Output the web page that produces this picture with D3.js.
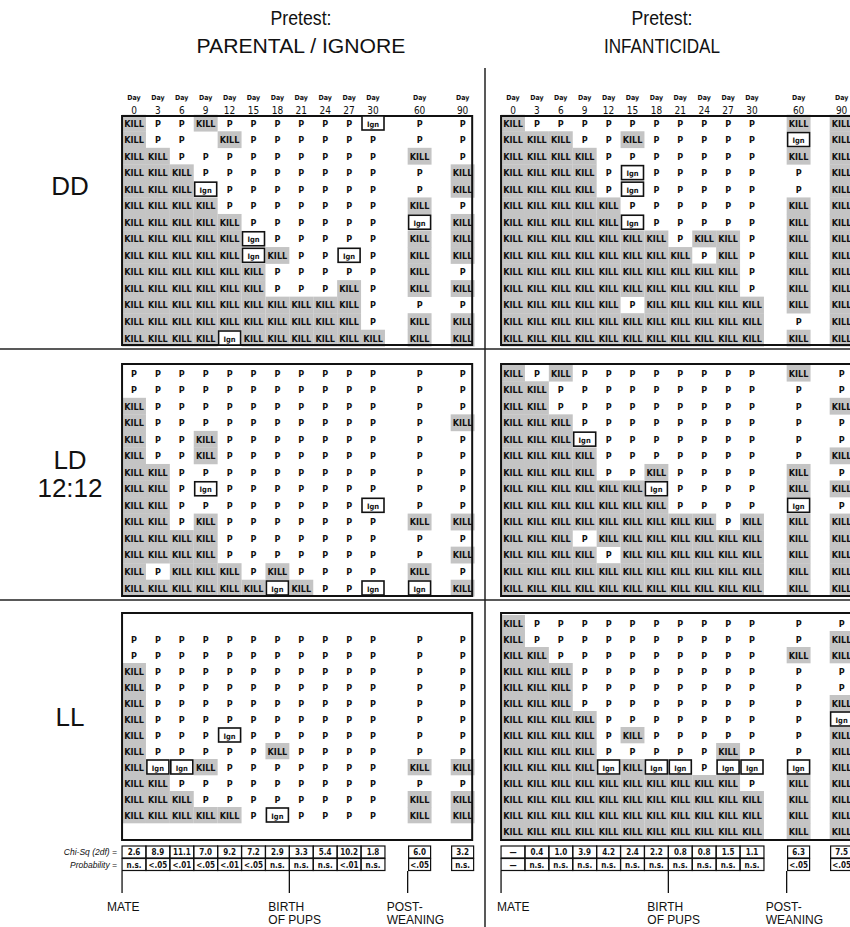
<!DOCTYPE html>
<html>
<head>
<meta charset="utf-8">
<script src="https://cdn.jsdelivr.net/npm/d3@7"></script>
<style>
body { margin: 0; background: #fff; }
text { font-family: "Liberation Sans", Arial, sans-serif; fill: #111; }
.cell, .hdr, .stat { font-family: "Liberation Sans Narrow", "DejaVu Sans Condensed", sans-serif; font-weight: bold; }
</style>
</head>
<body>
<script>
// columns of each grid
var days = [0, 3, 6, 9, 12, 15, 18, 21, 24, 27, 30, 60, 90];
var daySlot = [0, 1, 2, 3, 4, 5, 6, 7, 8, 9, 10, 11.95, 13.75];
var groups = ["PARENTAL / IGNORE", "INFANTICIDAL"];
var conditions = [["DD"], ["LD", "12:12"], ["LL"]];

// one string per animal, one letter per day: K = KILL, P = parental, I = Ign(ore), - = nothing
var ddParental = [
  "KPPKPPPPPPIPP",
  "KPP-KPPPPPPPP",
  "KKPPPPPPPPPKP",
  "KKKPPPPPPPPPK",
  "KKKIPPPPPPPPK",
  "KKKKPPPPPPPKP",
  "KKKKKPPPPPPIK",
  "KKKKKIPPPPPKK",
  "KKKKKIKPPIPKK",
  "KKKKKKPPPPPKP",
  "KKKKKKPPPKPKK",
  "KKKKKKKKKKPPP",
  "KKKKKKKKKKPKK",
  "KKKKIKKKKKKKK"
];
var ddInfant = [
  "KPPPPPPPPPPKK",
  "KKKPPKPPPPPIK",
  "KKKKPPPPPPPKK",
  "KKKKPIPPPPPPK",
  "KKKKPIPPPPPPK",
  "KKKKKPPPPPPKK",
  "KKKKKIPPPPPKK",
  "KKKKKKKPKKPKK",
  "KKKKKKKKPKPKK",
  "KKKKKKKKKKPKK",
  "KKKKKKKKKKPKK",
  "KKKKKPKKKKKKK",
  "KKKKKKKKKKKPK",
  "KKKKKKKKKKKKK"
];
var ldParental = [
  "PPPPPPPPPPPPP",
  "PPPPPPPPPPPPP",
  "KPPPPPPPPPPPP",
  "KPPPPPPPPPPPK",
  "KPPKPPPPPPPPP",
  "KPPKPPPPPPPPP",
  "KKPPPPPPPPPPP",
  "KKPIPPPPPPPPP",
  "KKPPPPPPPPIPP",
  "KKPKPPPPPPPKK",
  "KKKKPPPPPPPPP",
  "KKKKPPPPPPPPK",
  "KPKKKPKPPPPKP",
  "KKKKKKIKPPIIK"
];
var ldInfant = [
  "KPKPPPPPPPPKP",
  "KKPPPPPPPPPPP",
  "KKPPPPPPPPPPK",
  "KKKPPPPPPPPPP",
  "KKKIPPPPPPPPP",
  "KKKKPPPPPPPPK",
  "KKKKPPKPPPPKP",
  "KKKKKKIPPPPKK",
  "KKKKKKKPPPPIP",
  "KKKKKKKKKPKKK",
  "KKKPKKKKKKKKK",
  "KKKKPKKKKKKKK",
  "KKKKKKKKKKKKK",
  "KKKKKKKKKKKKK"
];
var llParental = [
  "-------------",
  "PPPPPPPPPPPPP",
  "PPPPPPPPPPPPP",
  "KPPPPPPPPPPPP",
  "KPPPPPPPPPPPP",
  "KPPPPPPPPPPPP",
  "KPPPPPPPPPPPP",
  "KPPPIPPPPPPPP",
  "KPPPPPKPPPPPP",
  "KIIKPPPPPPPKK",
  "KKPPPPPPPPPPP",
  "KKKPPPPPPPPKK",
  "KKKKKPIPPPPKK",
  "-------------"
];
var llInfant = [
  "KPPPPPPPPPPPP",
  "KPPPPPPPPPPPK",
  "KKPPPPPPPPPKK",
  "KKKPPPPPPPPPP",
  "KKKPPPPPPPPPP",
  "KKKPPPPPPPPPK",
  "KKKKPPPPPPPPI",
  "KKKKPKPPPPPPK",
  "KKKKPPPPPKPPK",
  "KKKKIKIIPIIIK",
  "KKKKKKKKKKPKK",
  "KKKKKKKKKKKKK",
  "KKKKKKKKKKKKK",
  "KKKKKKKKKKKKK"
];
var grids = [[ddParental, ddInfant], [ldParental, ldInfant], [llParental, llInfant]];

// statistics under the LL panels
var chiParental = ["2.6", "8.9", "11.1", "7.0", "9.2", "7.2", "2.9", "3.3", "5.4", "10.2", "1.8", "6.0", "3.2"];
var probParental = ["n.s.", "<.05", "<.01", "<.05", "<.01", "<.05", "n.s.", "n.s.", "n.s.", "<.01", "n.s.", "<.05", "n.s."];
var chiInfant = ["\u2014", "0.4", "1.0", "3.9", "4.2", "2.4", "2.2", "0.8", "0.8", "1.5", "1.1", "6.3", "7.5"];
var probInfant = ["\u2014", "n.s.", "n.s.", "n.s.", "n.s.", "n.s.", "n.s.", "n.s.", "n.s.", "n.s.", "n.s.", "<.05", "<.05"];
var chiRows = [chiParental, chiInfant];
var probRows = [probParental, probInfant];
var events = [["MATE"], ["BIRTH", "OF PUPS"], ["POST-", "WEANING"]];
var eventSlot = [-0.5, 6.5, 11.45];

var width = 850, height = 927;
var svg = d3.select("body").append("svg")
  .attr("width", width).attr("height", height);

var colX0 = [134, 513], step = 23.9;
var rowFirst = [123, 373, 623], rowLast = [338, 588, 831];
var boxTop = [116, 364, 613], boxBottom = [345, 596, 840];

// titles, squeezed a little to look like the condensed original
var titleW = [[61, 209], [61, 116]];
groups.forEach(function(g, gi) {
  var cx = gi == 0 ? 301 : 662;
  svg.append("text").attr("x", cx).attr("y", 25).attr("text-anchor", "middle")
    .attr("textLength", titleW[gi][0]).attr("lengthAdjust", "spacingAndGlyphs")
    .style("font-size", "20px").text("Pretest:");
  svg.append("text").attr("x", cx).attr("y", 53).attr("text-anchor", "middle")
    .attr("textLength", titleW[gi][1]).attr("lengthAdjust", "spacingAndGlyphs")
    .style("font-size", "20px").text(g);
});

// dividers
svg.append("line").attr("x1", 485).attr("x2", 485).attr("y1", 68).attr("y2", height)
  .attr("stroke", "#222").attr("stroke-width", 1.5);
[349, 600].forEach(function(yy) {
  svg.append("line").attr("x1", 0).attr("x2", width).attr("y1", yy).attr("y2", yy)
    .attr("stroke", "#222").attr("stroke-width", 1.5);
});

// condition labels
var labelY = [[195], [469, 497], [726]];
conditions.forEach(function(c, ci) {
  c.forEach(function(t, k) {
    svg.append("text").attr("x", 70).attr("y", labelY[ci][k]).attr("text-anchor", "middle")
      .style("font-size", "26px").text(t);
  });
});

var cellText = { K: "KILL", P: "P", I: "Ign", "-": "" };

groups.forEach(function(g, gi) {
  var x = d3.scaleLinear().domain([0, 10]).range([colX0[gi], colX0[gi] + 10 * step]);

  // day header
  var hdr = svg.append("g");
  days.forEach(function(d, i) {
    hdr.append("text").attr("class", "hdr").attr("x", x(daySlot[i])).attr("y", 100)
      .attr("text-anchor", "middle").style("font-size", "7px").text("Day");
    hdr.append("text").attr("class", "hdr").attr("x", x(daySlot[i])).attr("y", 114)
      .attr("text-anchor", "middle").style("font-size", "10px").style("font-weight", "normal").text(d);
  });

  conditions.forEach(function(c, ci) {
    var rows = grids[ci][gi];
    var y = d3.scaleLinear().domain([0, 13]).range([rowFirst[ci], rowLast[ci]]);
    var rowStep = y(1) - y(0);
    var cells = [];
    rows.forEach(function(r, ri) {
      r.split("").forEach(function(v, di) {
        cells.push({ row: ri, day: di, v: v });
      });
    });
    var p = svg.append("g");

    p.selectAll(".shade").data(cells.filter(function(d) { return d.v == "K"; }))
      .enter().append("rect").attr("class", "shade")
      .attr("x", function(d) { return x(daySlot[d.day]) - step / 2; })
      .attr("y", function(d) { return y(d.row) - rowStep / 2; })
      .attr("width", step).attr("height", rowStep + 0.3)
      .attr("fill", "#c4c4c4");

    p.append("rect")
      .attr("x", x(-0.5)).attr("y", boxTop[ci])
      .attr("width", x(14.15) - x(-0.5)).attr("height", boxBottom[ci] - boxTop[ci])
      .attr("fill", "none").attr("stroke", "#111").attr("stroke-width", 2);

    p.selectAll(".ign").data(cells.filter(function(d) { return d.v == "I"; }))
      .enter().append("rect").attr("class", "ign")
      .attr("x", function(d) { return x(daySlot[d.day]) - 11; })
      .attr("y", function(d) { return y(d.row) - 7; })
      .attr("width", 22).attr("height", 14)
      .attr("fill", "#fff").attr("stroke", "#111").attr("stroke-width", 1.6);

    p.selectAll(".cell").data(cells.filter(function(d) { return d.v != "-"; }))
      .enter().append("text").attr("class", "cell")
      .attr("x", function(d) { return x(daySlot[d.day]); })
      .attr("y", function(d) { return y(d.row) + 3.5; })
      .attr("text-anchor", "middle")
      .style("font-size", function(d) { return d.v == "I" ? "7.5px" : "9px"; })
      .text(function(d) { return cellText[d.v]; });
  });

  // chi-square and probability rows
  var st = svg.append("g");
  [chiRows[gi], probRows[gi]].forEach(function(vals, k) {
    var yTop = 846 + k * 12.5;
    vals.forEach(function(v, i) {
      var w = i > 10 ? 22 : step;
      st.append("rect").attr("x", x(daySlot[i]) - w / 2).attr("y", yTop)
        .attr("width", w).attr("height", 12)
        .attr("fill", "none").attr("stroke", "#111").attr("stroke-width", 1.2);
      st.append("text").attr("class", "stat").attr("x", x(daySlot[i])).attr("y", yTop + 9)
        .attr("text-anchor", "middle").style("font-size", "8px").text(v);
    });
  });
  if (gi == 0) {
    st.append("text").attr("x", 117).attr("y", 855).attr("text-anchor", "end")
      .style("font-size", "8.5px").style("font-style", "italic").text("Chi-Sq (2df) =");
    st.append("text").attr("x", 117).attr("y", 868).attr("text-anchor", "end")
      .style("font-size", "8.5px").style("font-style", "italic").text("Probability =");
  }

  // event markers
  events.forEach(function(ev, ei) {
    var lx = x(eventSlot[ei]);
    st.append("line").attr("x1", lx).attr("x2", lx).attr("y1", 871).attr("y2", 893)
      .attr("stroke", "#111").attr("stroke-width", 1.3);
    var tx = ei == 0 ? (gi == 0 ? lx - 15 : lx - 4) : lx - 21;
    ev.forEach(function(t, k) {
      st.append("text").attr("x", tx).attr("y", 911 + k * 12.5)
        .style("font-size", "12px").text(t);
    });
  });
});
</script>
</body>
</html>
